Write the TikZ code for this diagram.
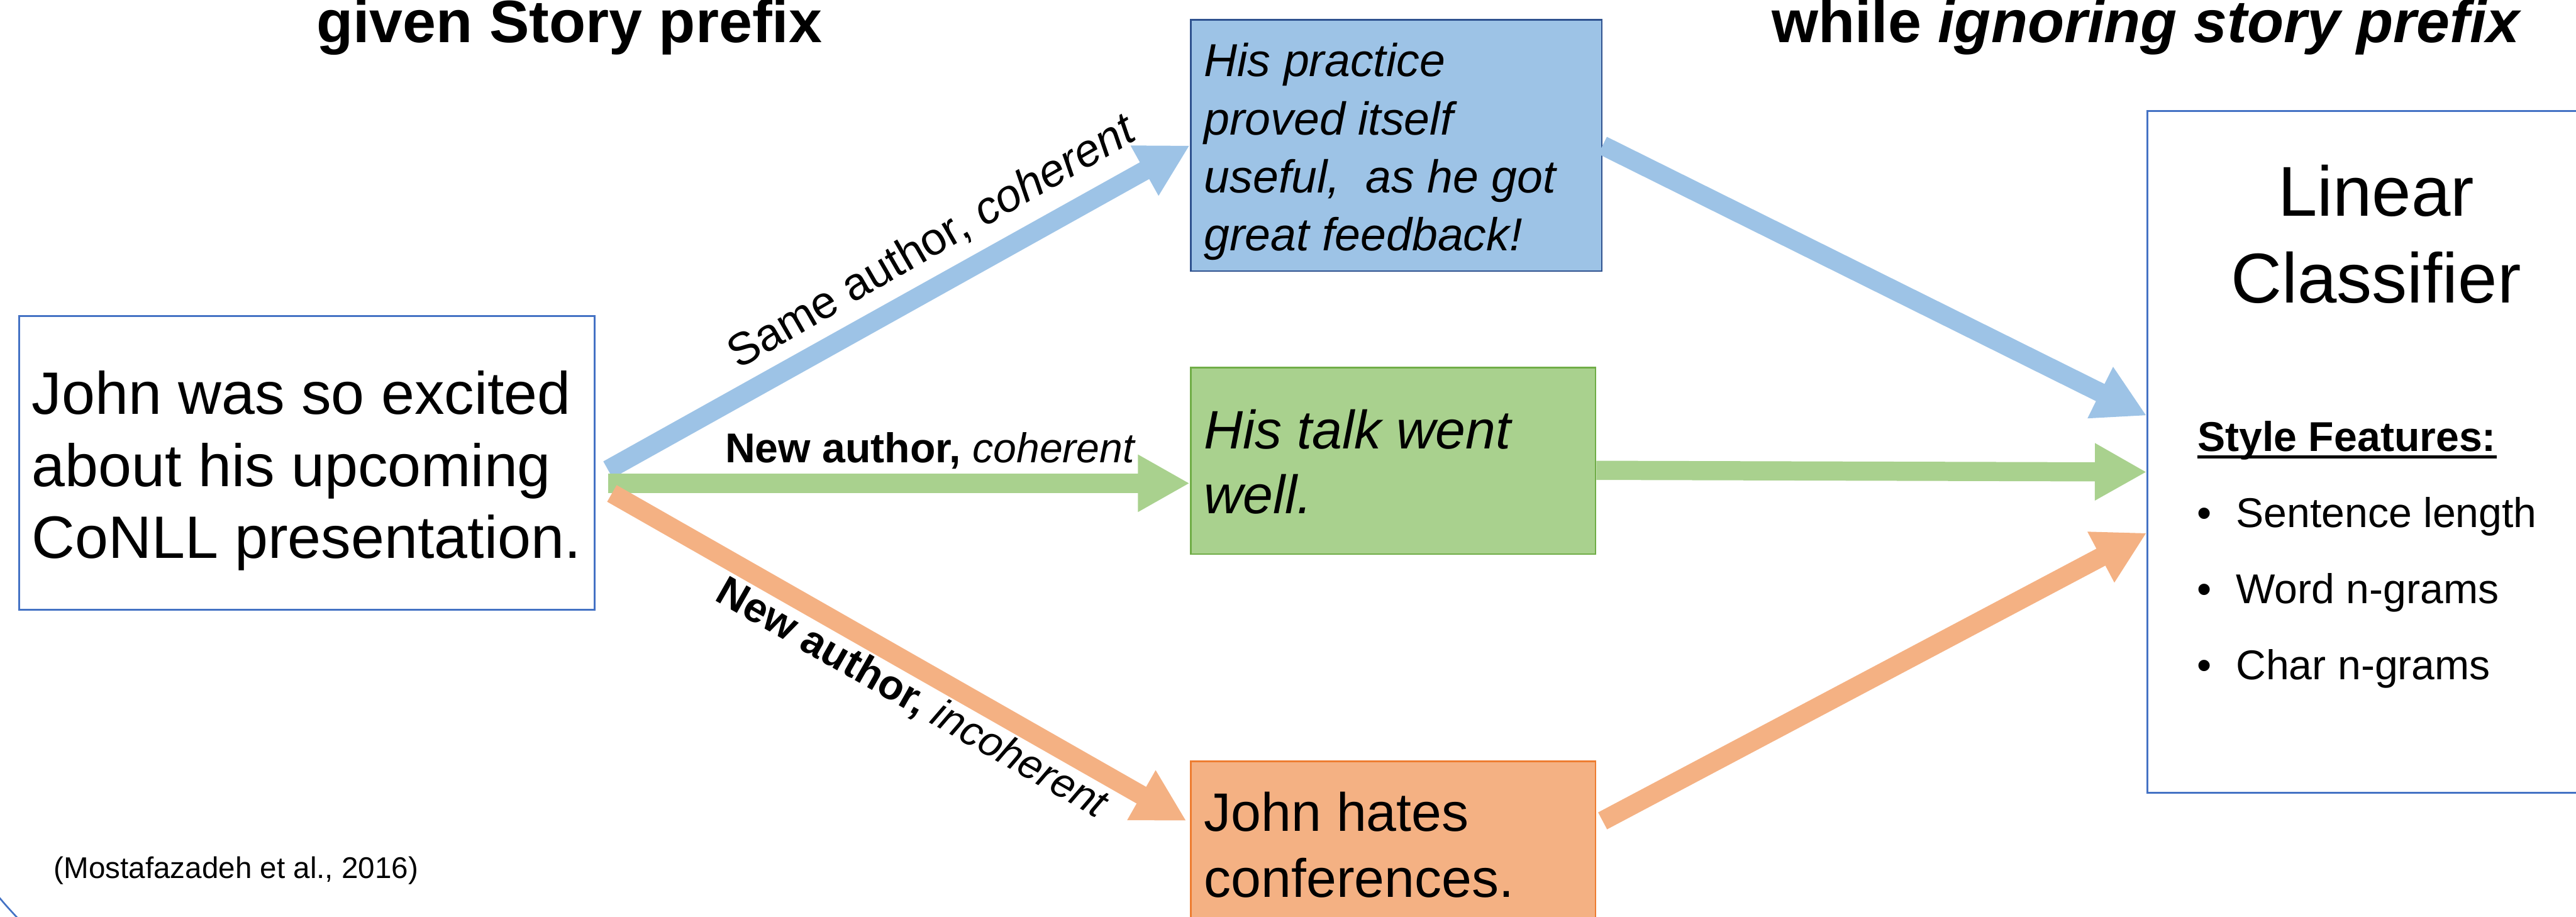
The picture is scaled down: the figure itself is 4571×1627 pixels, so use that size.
\documentclass[tikz,border=0pt]{standalone}
\usepackage{fontspec}
\setmainfont{Liberation Sans}
\usetikzlibrary{arrows.meta,calc}
\definecolor{bfill}{HTML}{9DC3E6}
\definecolor{gfill}{HTML}{A9D18E}
\definecolor{ofill}{HTML}{F4B183}
\definecolor{bline}{HTML}{4472C4}
\definecolor{bdark}{HTML}{2F528F}
\definecolor{gline}{HTML}{70AD47}
\definecolor{oline}{HTML}{ED7D31}
\begin{document}
\begin{tikzpicture}[x=0.01cm,y=-0.01cm,
  box/.style={draw, line width=0.03cm, inner sep=0pt},
  fat/.style={line width=0.34cm, -{Triangle[length=0.92cm,width=0.95cm]}},
  txt/.style={inner sep=0pt, align=left, anchor=north west},
  lbl/.style={inner sep=0pt, font=\fontsize{21}{25}\selectfont},
  ttl/.style={inner sep=0pt, anchor=base west, font=\bfseries\fontsize{30.2}{36}\selectfont}]
\useasboundingbox (0,0) rectangle (4571,1627);
\clip (0,0) rectangle (4571,1627);

% boxes
\node[box, draw=bline, minimum width=10.21cm, minimum height=5.21cm] (story) at (544.5,821.5) {};
\node[box, draw=bdark, fill=bfill, minimum width=7.29cm, minimum height=4.46cm] (practice) at (2477.5,258) {};
\node[box, draw=gline, fill=gfill, minimum width=7.18cm, minimum height=3.31cm] (talk) at (2472,817.5) {};
\node[box, draw=oline, fill=ofill, minimum width=7.18cm, minimum height=3.31cm] (hates) at (2472,1516.5) {};
\node[box, draw=bline, minimum width=8.29cm, minimum height=12.09cm] (clf) at (4225.5,801.5) {};

% texts
\node[txt, font=\fontsize{30.2}{36.4}\selectfont] (storytxt) at (56,657)
  {John was so excited\\about his upcoming\\CoNLL presentation.};
\node[txt, font=\itshape\fontsize{23.3}{29.3}\selectfont] (practicetxt) at (2136,76)
  {His practice\\proved itself\\useful,\ \ as he got\\great feedback!};
\node[txt, font=\itshape\fontsize{27.3}{32.7}\selectfont] (talktxt) at (2136,726)
  {His talk went\\well.};
\node[txt, font=\fontsize{27.3}{33.3}\selectfont] (hatestxt) at (2136,1404)
  {John hates\\conferences.};
\node[inner sep=0pt, align=center, anchor=north, font=\fontsize{35.6}{43.8}\selectfont] (clftitle) at (4216,292)
  {Linear\\Classifier};
\node[inner sep=0pt, anchor=base west, font=\bfseries\fontsize{21}{25}\selectfont] (features) at (3899,801) {Style Features:};
\draw[line width=0.05cm] ($(features.base west)+(0,10)$) -- ($(features.base east)+(0,10)$);
\node[txt, font=\fontsize{21}{38.4}\selectfont] (bullets) at (3898,881)
  {\makebox[0.69cm][l]{•}Sentence length\\\makebox[0.69cm][l]{•}Word n-grams\\\makebox[0.69cm][l]{•}Char n-grams};

\node[ttl] (titleL) at (561,75) {given Story prefix};
\node[ttl] (titleR) at (3143,75) {while \textit{ignoring story prefix}};
\node[inner sep=0pt, anchor=base west, font=\fontsize{15.1}{18}\selectfont] (cite) at (95,1558) {(Mostafazadeh et al., 2016)};

% connectors
\coordinate (fork) at ($(story.east)+(22,36)$);
\draw[fat, bfill] ($(fork)+(0,-24)$) -- (practice.west);
\draw[fat, gfill] (fork) -- (fork -| talk.west);
\draw[fat, ofill] ($(fork)+(7,18)$) -- ($(hates.west)+(-6,-60)$);
\draw[fat, bfill] (practice.east) -- ($(clf.west)+(0,-64)$);
\draw[fat, gfill] ($(talk.east)+(0,17)$) -- ($(clf.west)+(0,36)$);
\draw[fat, ofill] ($(hates.east)+(11,-60)$) -- ($(clf.west)+(0,144)$);

% labels
\node[lbl, font=\fontsize{23}{27}\selectfont, anchor=base west, rotate=30] (lblsame) at (1310,656) {Same author, \textit{coherent}};
\node[lbl, anchor=base west] (lblnew) at (1286,821) {\textbf{New author,} \textit{coherent}};
\node[lbl, anchor=base, rotate=-29.7] (lblinc) at (1608,1259) {\textbf{New author,} \textit{incoherent}};

% partial arc at the lower left edge
\draw[bline, line width=0.03cm] (-5,1588) .. controls (10,1606) .. (34,1632);
\end{tikzpicture}
\end{document}
